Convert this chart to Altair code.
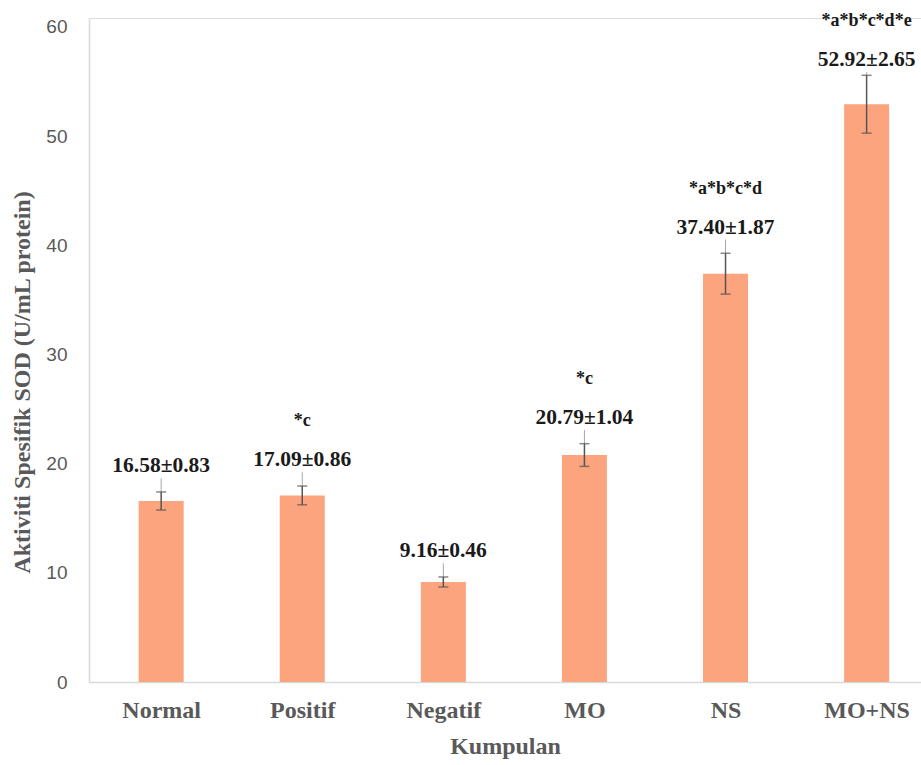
import json
import altair as alt
import numpy as np
import pandas as pd

# SOD specific activity per group (mean ± SD)
groups = ["Normal", "Positif", "Negatif", "MO", "NS", "MO+NS"]
means = [16.58, 17.09, 9.16, 20.79, 37.40, 52.92]
sds = [0.83, 0.86, 0.46, 1.04, 1.87, 2.65]
sig = ["", "*c", "", "*c", "*a*b*c*d", "*a*b*c*d*e"]

df = pd.DataFrame({
    "idx": list(range(len(groups))),
    "group": groups,
    "mean": means,
    "sd": sds,
    "sig": sig,
})
df["lo"] = df["mean"] - df["sd"]
df["hi"] = df["mean"] + df["sd"]
df["label"] = [f"{m:.2f}±{s:.2f}" for m, s in zip(means, sds)]
# labels sit a little above the error bar, kept below the top of the axis
df["label_y"] = np.minimum(df["hi"] + 1.8, 56.4)

SERIF = "Liberation Serif"
SANS = "Liberation Sans"
GREY = "#595959"

label_expr = json.dumps(groups) + "[datum.value]"

x = alt.X(
    "idx:Q",
    scale=alt.Scale(domain=[-0.476, 5.35], nice=False, zero=False),
    axis=alt.Axis(
        title="Kumpulan",
        values=list(range(len(groups))),
        labelExpr=label_expr,
        grid=False,
        ticks=False,
        domainColor="#d9d9d9",
        domainWidth=1.5,
        labelFont=SERIF,
        labelFontWeight="bold",
        labelFontSize=24,
        labelColor=GREY,
        labelPadding=16,
        titleFont=SERIF,
        titleFontWeight="bold",
        titleFontSize=24,
        titleColor=GREY,
        titlePadding=12,
    ),
)

y = alt.Y(
    "mean:Q",
    scale=alt.Scale(domain=[0, 60.82], nice=False),
    axis=alt.Axis(
        title="Aktiviti Spesifik SOD (U/mL protein)",
        values=[0, 10, 20, 30, 40, 50, 60],
        grid=False,
        ticks=False,
        domainColor="#d9d9d9",
        domainWidth=1.5,
        labelFont=SANS,
        labelFontSize=19,
        labelColor=GREY,
        labelPadding=22,
        titleFont=SERIF,
        titleFontWeight="bold",
        titleFontSize=24,
        titleColor=GREY,
        titleY=364,
        titleX=-67,
        titleBaseline="middle",
    ),
)

base = alt.Chart(df)

bars = base.mark_bar(size=45, color="#FBA47E").encode(x=x, y=y)

err = base.mark_rule(color="#555555", strokeWidth=1.5).encode(
    x="idx:Q", y="lo:Q", y2="hi:Q"
)
caps_hi = base.mark_tick(orient="horizontal", size=10, thickness=1.5, color="#555555").encode(
    x="idx:Q", y="hi:Q"
)
caps_lo = base.mark_tick(orient="horizontal", size=10, thickness=1.5, color="#555555").encode(
    x="idx:Q", y="lo:Q"
)

# thin leader from the error bar up towards its value label
leader = base.mark_rule(color="#a6a6a6", strokeWidth=1, y2Offset=6).encode(
    x="idx:Q", y="hi:Q", y2="label_y:Q"
)

values = base.mark_text(
    font=SERIF, fontWeight="bold", fontSize=21.5, color="#1a1a1a",
    baseline="alphabetic",
).encode(x="idx:Q", y="label_y:Q", text="label:N")

stars = base.mark_text(
    font=SERIF, fontWeight="bold", fontSize=18, color="#1a1a1a",
    baseline="alphabetic", dy=-40,
).encode(x="idx:Q", y="label_y:Q", text="sig:N")

chart = (
    alt.layer(bars, leader, err, caps_hi, caps_lo, values, stars)
    .properties(
        width=832,
        height=664,
        autosize=alt.AutoSizeParams(type="none"),
        padding={"left": 89, "top": 18, "right": 0, "bottom": 83},
    )
    .configure_view(stroke=None)
    .configure(background="white")
)

chart.save("out.html", embed_options={"renderer": "svg", "actions": False})
